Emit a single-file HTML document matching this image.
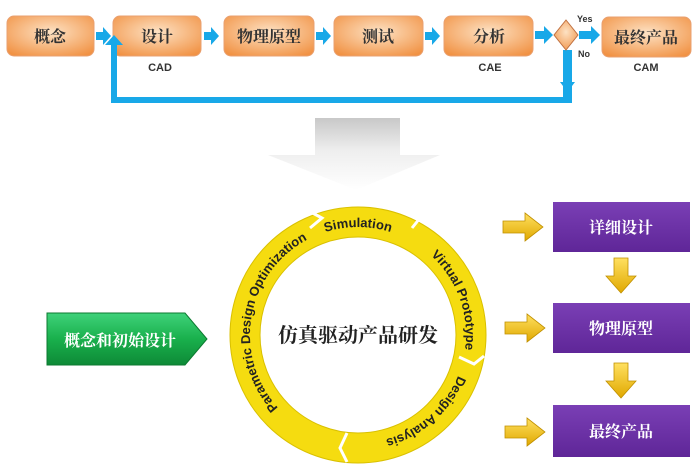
<!DOCTYPE html>
<html><head><meta charset="utf-8"><style>
body{margin:0;background:#fff;}
svg{display:block;}
text{font-family:"Liberation Sans","Noto Sans CJK SC",sans-serif;}
.cn{font-family:"Noto Serif CJK SC","Noto Sans CJK SC",serif;font-weight:bold;}
</style></head><body>
<svg width="700" height="469" viewBox="0 0 700 469" xmlns="http://www.w3.org/2000/svg">
<defs>
<radialGradient id="og2" cx="0.5" cy="0.4" r="0.7"><stop offset="0" stop-color="#fde2c4"/><stop offset="1" stop-color="#f19244"/></radialGradient>
<linearGradient id="gg" x1="0" y1="0" x2="0" y2="1"><stop offset="0" stop-color="#c8c8c8"/><stop offset="0.45" stop-color="#eeeeee"/><stop offset="1" stop-color="#ffffff"/></linearGradient>
<linearGradient id="grn" x1="0" y1="0" x2="0" y2="1"><stop offset="0" stop-color="#3fd27a"/><stop offset="0.5" stop-color="#19b04c"/><stop offset="1" stop-color="#0e8a37"/></linearGradient>
<linearGradient id="pur" x1="0" y1="0" x2="0" y2="1"><stop offset="0" stop-color="#7a3fb5"/><stop offset="1" stop-color="#5f2698"/></linearGradient>
<linearGradient id="ya" x1="0" y1="0" x2="0" y2="1"><stop offset="0" stop-color="#ffe060"/><stop offset="1" stop-color="#e0a800"/></linearGradient>
<path id="tp" d="M358,443 A108,108 0 1 1 358,227 A108,108 0 1 1 358,443 A108,108 0 1 1 358,227"/>
</defs>

<g stroke="#e9a070" stroke-width="1">
<rect x="7" y="16" width="87" height="40" rx="7" fill="url(#og2)"/>
<rect x="113" y="16" width="88" height="40" rx="7" fill="url(#og2)"/>
<rect x="224" y="16" width="90" height="40" rx="7" fill="url(#og2)"/>
<rect x="334" y="16" width="89" height="40" rx="7" fill="url(#og2)"/>
<rect x="444" y="16" width="89" height="40" rx="7" fill="url(#og2)"/>
<rect x="602" y="17" width="89" height="40" rx="7" fill="url(#og2)"/>
</g>
<g font-size="16" fill="#333" text-anchor="middle">
<text x="50" y="42" class="cn">概念</text>
<text x="157" y="42" class="cn">设计</text>
<text x="269" y="42" class="cn">物理原型</text>
<text x="378" y="42" class="cn">测试</text>
<text x="489" y="42" class="cn">分析</text>
<text x="646" y="43" class="cn">最终产品</text>
</g>
<g font-size="11" font-weight="bold" fill="#333" text-anchor="middle">
<text x="160" y="71">CAD</text><text x="490" y="71">CAE</text><text x="646" y="71">CAM</text>
</g>
<g font-size="9" font-weight="bold" fill="#333">
<text x="577" y="22">Yes</text><text x="578" y="57">No</text>
</g>
<g fill="#18a8e8">
<path d="M96,32 h7 v-5 l8,9 -8,9 v-5 h-7z"/>
<path d="M204,32 h7 v-5 l8,9 -8,9 v-5 h-7z"/>
<path d="M316,32 h7 v-5 l8,9 -8,9 v-5 h-7z"/>
<path d="M425,32 h7 v-5 l8,9 -8,9 v-5 h-7z"/>
<path d="M535,31 h9 v-5 l9,9 -9,9 v-5 h-9z"/>
<path d="M579,31 h12 v-5 l9,9 -9,9 v-5 h-12z"/>
<path d="M563,50 h9 v53 h-461 v-58 h-6 l9,-10 9,10 h-6 v52 h446 v-47z"/>
<path d="M560,82 h15 l-7.5,10z"/>
</g>
<path d="M566,20 L578,35 L566,50 L554,35Z" fill="url(#og2)" stroke="#c07040"/>

<path d="M315,118 H400 V155 H440 L356,190 L268,155 H315Z" fill="url(#gg)"/>

<circle cx="358" cy="335" r="113" fill="none" stroke="#f5dc10" stroke-width="30"/>
<circle cx="358" cy="335" r="128" fill="none" stroke="#d9c000" stroke-width="1"/>
<circle cx="358" cy="335" r="98" fill="none" stroke="#d9c000" stroke-width="1"/>
<g stroke="#fff" stroke-width="3" fill="none">
<path d="M310,228 L322,218 L307,210"/>
<path d="M412,228 L420,218 L414,205"/>
<path d="M459,357 L474,364 L484,356"/>
<path d="M347,433 L340,448 L347,462"/>
</g>
<g font-size="13" font-weight="bold" fill="#222">
<text><textPath href="#tp" startOffset="188" text-anchor="middle">Parametric Design Optimization</textPath></text>
<text><textPath href="#tp" startOffset="339" text-anchor="middle">Simulation</textPath></text>
<text><textPath href="#tp" startOffset="471" text-anchor="middle">Virtual Prototype</textPath></text>
<text><textPath href="#tp" startOffset="600" text-anchor="middle">Design Analysis</textPath></text>
</g>
<text x="358" y="342" font-size="20" text-anchor="middle" fill="#222" class="cn">仿真驱动产品研发</text>

<path d="M47,313 H185 L207,339 L185,365 H47Z" fill="url(#grn)" stroke="#0c7a30"/>
<text x="120" y="346" font-size="16" text-anchor="middle" fill="#fff" class="cn">概念和初始设计</text>

<rect x="553" y="202" width="137" height="50" fill="url(#pur)"/>
<rect x="553" y="303" width="137" height="50" fill="url(#pur)"/>
<rect x="553" y="405" width="137" height="52" fill="url(#pur)"/>
<g font-size="16" fill="#fff" text-anchor="middle">
<text x="621" y="233" class="cn">详细设计</text>
<text x="621" y="334" class="cn">物理原型</text>
<text x="621" y="437" class="cn">最终产品</text>
</g>
<g fill="url(#ya)" stroke="#c09000" stroke-width="0.8">
<path d="M503,221 h22 v-8 l18,14 -18,14 v-8 h-22z"/>
<path d="M505,322 h22 v-8 l18,14 -18,14 v-8 h-22z"/>
<path d="M505,426 h22 v-8 l18,14 -18,14 v-8 h-22z"/>
<path d="M614,258 h14 v18 h8 l-15,17 -15,-17 h8z"/>
<path d="M614,363 h14 v18 h8 l-15,17 -15,-17 h8z"/>
</g>
</svg>
</body></html>
